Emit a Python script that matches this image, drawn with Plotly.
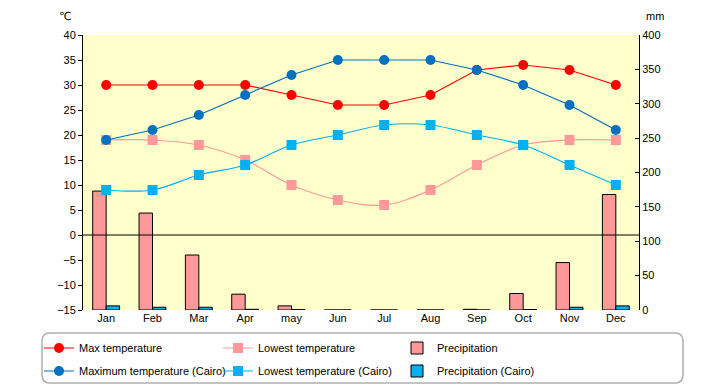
import plotly.graph_objects as go

months = ["Jan", "Feb", "Mar", "Apr", "may", "Jun", "Jul", "Aug", "Sep", "Oct", "Nov", "Dec"]
max_temp = [30, 30, 30, 30, 28, 26, 26, 28, 33, 34, 33, 30]
low_temp = [19, 19, 18, 15, 10, 7, 6, 9, 14, 18, 19, 19]
precip = [173, 141, 80, 23, 6, 0, 0, 0, 1, 24, 69, 168]
cairo_max = [19, 21, 24, 28, 32, 35, 35, 35, 33, 30, 26, 21]
cairo_low = [9, 9, 12, 14, 18, 20, 22, 22, 20, 18, 14, 10]
cairo_precip = [6, 4, 4, 1, 0.5, 0, 0, 0, 0, 0.7, 4, 6]

left_ticks = list(range(-15, 41, 5))
right_ticks = list(range(0, 401, 50))

FONT = "Liberation Sans"
fig = go.Figure()

# bars on primary (right side, mm)
fig.add_trace(go.Bar(x=months, y=precip, name="Precipitation", yaxis="y", legend="legend", legendrank=3,
                     marker=dict(color="#FF9999", line=dict(color="black", width=1))))
fig.add_trace(go.Bar(x=months, y=cairo_precip, name="Precipitation (Cairo)", yaxis="y", legend="legend2",
                     legendrank=3, marker=dict(color="#00B0F0", line=dict(color="black", width=1))))

# lines on overlay (left side, °C)
fig.add_trace(go.Scatter(x=months, y=max_temp, name="Max temperature", yaxis="y2", mode="lines+markers",
                         legend="legend", legendrank=1,
                         line=dict(color="#FF0000", width=1.2), marker=dict(symbol="circle", size=10, color="#FF0000")))
fig.add_trace(go.Scatter(x=months, y=low_temp, name="Lowest temperature", yaxis="y2", mode="lines+markers",
                         legend="legend", legendrank=2,
                         line=dict(color="#FF9999", width=1.2, shape="spline"),
                         marker=dict(symbol="square", size=10, color="#FF9999")))
fig.add_trace(go.Scatter(x=months, y=cairo_max, name="Maximum temperature (Cairo)", yaxis="y2", mode="lines+markers",
                         legend="legend2", legendrank=1,
                         line=dict(color="#0070C0", width=1.2), marker=dict(symbol="circle", size=10, color="#0070C0")))
fig.add_trace(go.Scatter(x=months, y=cairo_low, name="Lowest temperature (Cairo)", yaxis="y2", mode="lines+markers",
                         legend="legend2", legendrank=2,
                         line=dict(color="#00B0F0", width=1.2, shape="spline"),
                         marker=dict(symbol="square", size=10, color="#00B0F0")))

# page body has an 8px margin: figure is drawn from (8, 8)
OFF = 8
W, H = 720 - OFF, 385 - OFF
# target plot area on screen: x 83..639, y 35..310
ml, mt = 83 - OFF, 35 - OFF
mr, mb = W - (639 - OFF), H - (310 - OFF)
pw, ph = W - ml - mr, H - mt - mb

def px(x):  # screen x -> paper
    return (x - OFF - ml) / pw
def py(y):  # screen y -> paper
    return (H - mb - (y - OFF)) / ph

# rounded legend box in paper coords
lx0, lx1, ly0, ly1 = 42, 683, 333, 383
r = 8
rx, ry = r / pw, r / ph
x0, x1, y0, y1 = px(lx0), px(lx1), py(ly1), py(ly0)
path = (f"M {x0+rx},{y0} L {x1-rx},{y0} Q {x1},{y0} {x1},{y0+ry} L {x1},{y1-ry} Q {x1},{y1} {x1-rx},{y1} "
        f"L {x0+rx},{y1} Q {x0},{y1} {x0},{y1-ry} L {x0},{y0+ry} Q {x0},{y0} {x0+rx},{y0} Z")

leg_common = dict(orientation="h", xanchor="left", yanchor="middle", entrywidth=134, entrywidthmode="pixels",
                  traceorder="normal", bgcolor="rgba(0,0,0,0)", borderwidth=0,
                  font=dict(size=11, family=FONT))

fig.update_layout(
    width=W, height=H,
    margin=dict(l=ml, r=mr, t=mt, b=mb, autoexpand=False),
    paper_bgcolor="white", plot_bgcolor="#FFFFCC",
    font=dict(family=FONT, size=11, color="black"),
    barmode="group", bargap=0.42, bargroupgap=0,
    showlegend=True,
    legend=dict(x=px(39), y=py(348), **leg_common),
    legend2=dict(x=px(39), y=py(371), **leg_common),
    xaxis=dict(range=[-0.5, 11.5], showgrid=False, showline=False, ticks="", zeroline=False),
    yaxis=dict(side="right", range=[0, 400], tickvals=right_ticks, showgrid=False, zeroline=False,
               showline=True, linecolor="black", linewidth=1, ticks="inside", ticklen=4, tickcolor="black"),
    yaxis2=dict(overlaying="y", side="left", range=[-15, 40], tickvals=left_ticks, showgrid=False,
                zeroline=False, showline=True, linecolor="black", linewidth=1, ticks="outside", ticklen=4,
                tickcolor="black"),
    shapes=[
        dict(type="line", xref="paper", yref="y2", x0=0, x1=1, y0=0, y1=0,
             line=dict(color="black", width=1), layer="above"),
        dict(type="path", xref="paper", yref="paper", path=path,
             line=dict(color="#B0B0B0", width=1.5), fillcolor="rgba(0,0,0,0)", layer="above"),
    ],
    annotations=[
        dict(text="℃", xref="paper", yref="paper", x=px(57), y=py(16), showarrow=False,
             yanchor="middle", font=dict(size=11, family="DejaVu Sans")),
        dict(text="mm", xref="paper", yref="paper", x=px(666), y=py(16), showarrow=False,
             yanchor="middle", font=dict(size=11)),
    ],
)

fig.write_html("out.html")
